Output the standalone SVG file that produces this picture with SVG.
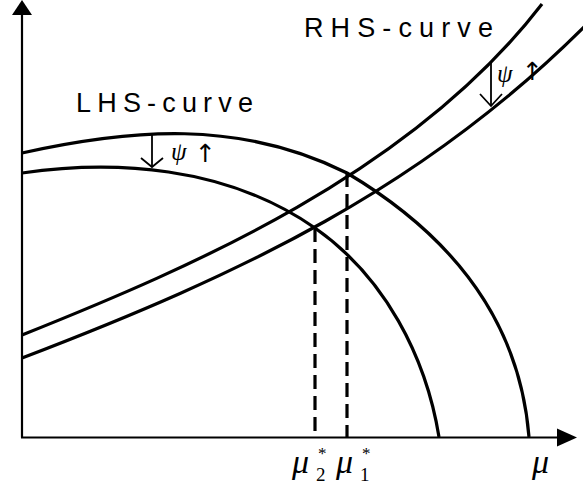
<svg xmlns="http://www.w3.org/2000/svg" width="583" height="490" viewBox="0 0 583 490">
<style>
.ax{stroke:#000;stroke-width:2.2;fill:none}
.cv{stroke:#000;stroke-width:3.2;fill:none}
.ds{stroke:#000;stroke-width:3.2;fill:none;stroke-dasharray:14 7}
.ar{stroke:#000;stroke-width:1.8;fill:none}
.lab{font-family:"Liberation Sans",Arial,sans-serif;font-size:27px;fill:#000}
.gr{font-family:"Liberation Serif","DejaVu Serif",serif;font-style:italic;fill:#000}
.up{font-family:"Liberation Serif","DejaVu Serif",serif;fill:#000}
.ua{font-family:"DejaVu Sans",sans-serif;fill:#000;font-size:25px}
</style>
<rect width="583" height="490" fill="#fff"/>
<g id="axes">
<line class="ax" x1="22" y1="437.5" x2="22" y2="10"/>
<polygon points="22,0 12,15 32,15" fill="#000"/>
<line class="ax" x1="21" y1="437.5" x2="562" y2="437.5"/>
<polygon points="577,437.5 557,428.5 557,446.5" fill="#000"/>
</g>
<g id="curves">
<path id="lhs-outer" class="cv" d="M22,153 C130,129 239,119 347,173 C448,233 519.4,317 529,437"/>
<path id="lhs-inner" class="cv" d="M22,173 C112,160 225,165 315,228 C385,277 426,357 439,437"/>
<path id="rhs-upper" class="cv" d="M22,335 C192,267 412,173 542,4"/>
<path id="rhs-lower" class="cv" d="M22,358 C242,274 423,188 585,26"/>
</g>
<g id="dashes">
<line class="ds" x1="347" y1="173" x2="347" y2="437"/>
<line class="ds" x1="315" y1="228" x2="315" y2="437"/>
</g>
<g id="shift-arrows">
<line class="ar" x1="152" y1="133" x2="152" y2="166"/>
<polyline class="ar" points="141,158 152,167 163,158"/>
<line class="ar" x1="491" y1="62" x2="491" y2="106"/>
<polyline class="ar" points="480,94 491,106 502,94"/>
</g>
<g id="labels">
<text class="lab" x="76" y="112" textLength="177" lengthAdjust="spacing">LHS-curve</text>
<text class="lab" x="304" y="37" textLength="189" lengthAdjust="spacing">RHS-curve</text>
<text class="gr" x="171" y="160" font-size="25">ψ</text>
<text class="ua" x="195" y="162">↑</text>
<text class="gr" x="497" y="82" font-size="25">ψ</text>
<text class="ua" x="522" y="80">↑</text>
<text class="gr" x="292" y="473" font-size="34">μ</text>
<text class="up" x="316" y="481" font-size="19">2</text>
<text class="up" x="318" y="459" font-size="17">*</text>
<text class="gr" x="336" y="473" font-size="34">μ</text>
<text class="up" x="360" y="481" font-size="19">1</text>
<text class="up" x="362" y="459" font-size="17">*</text>
<text class="gr" x="532" y="473" font-size="34">μ</text>
</g>
</svg>
